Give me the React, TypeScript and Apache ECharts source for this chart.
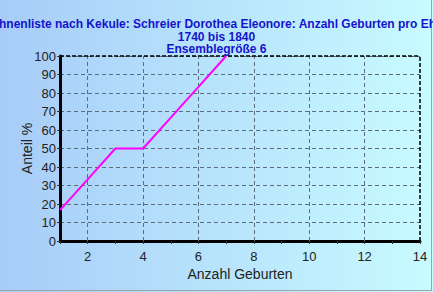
import React, { useEffect, useRef } from "react";
import * as echarts from "echarts";

const titleLines = [
  "Ahnenliste nach Kekule: Schreier Dorothea Eleonore: Anzahl Geburten pro Ehe",
  "1740 bis 1840",
  "Ensemblegröße 6",
];
const xName = "Anzahl Geburten";
const yName = "Anteil %";
const births = [1, 2, 3, 4, 5, 6, 7];
const shares = [16.67, 33.33, 50, 50, 66.67, 83.33, 100];
const xGridValues = [2, 4, 6, 8, 10, 12];
const xMin = 1;
const xMax = 14;
const yMin = 0;
const yMax = 100;
const yStep = 10;

export default function App() {
  const ref = useRef<HTMLDivElement>(null);
  useEffect(() => {
    if (!ref.current) return;
    const chart = echarts.init(ref.current, null, { renderer: "svg" });
    const font = "Arial, 'Liberation Sans', sans-serif";
    chart.setOption({
      animation: false,
      backgroundColor: {
        type: "linear",
        x: 0,
        y: 0,
        x2: 1,
        y2: 0,
        colorStops: [
          { offset: 0, color: "#a7ccf8" },
          { offset: 1, color: "#c8fbff" },
        ],
      },
      title: {
        text: titleLines.join("\n"),
        left: "center",
        top: 13,
        textStyle: {
          fontFamily: font,
          fontSize: 12,
          fontWeight: "bold",
          color: "#1414cc",
          lineHeight: 12.5,
        },
      },
      grid: { left: 60, right: 13, top: 56, bottom: 51 },
      xAxis: {
        type: "value",
        min: xMin,
        max: xMax,
        interval: 1,
        name: xName,
        nameLocation: "middle",
        nameGap: 26,
        nameMoveOverlap: false,
        nameTextStyle: { fontFamily: font, fontSize: 14, color: "#222" },
        axisLine: { show: true, lineStyle: { color: "#000", width: 3 } },
        axisTick: { show: true, length: 3, lineStyle: { color: "#333" } },
        axisLabel: {
          fontFamily: font,
          fontSize: 13,
          color: "#222",
          margin: 9,
          formatter: (v: number) => (v % 2 === 0 ? String(v) : ""),
        },
        splitLine: { show: false },
      },
      yAxis: {
        type: "value",
        min: yMin,
        max: yMax,
        interval: yStep,
        name: yName,
        nameLocation: "middle",
        nameGap: 26,
        nameMoveOverlap: false,
        nameTextStyle: { fontFamily: font, fontSize: 14, color: "#222" },
        axisLine: { show: true, lineStyle: { color: "#000", width: 3 } },
        axisTick: { show: true, length: 3, lineStyle: { color: "#333" } },
        axisLabel: { fontFamily: font, fontSize: 13, color: "#222", margin: 4 },
        splitLine: { show: true, lineStyle: { color: "#5a6e7e", type: [4, 3], width: 1 } },
      },
      series: [
        {
          type: "line",
          data: births.map((b, i) => [b, shares[i]]),
          showSymbol: false,
          symbol: "none",
          lineStyle: { color: "#ff00ff", width: 2 },
          z: 5,
          markLine: {
            silent: true,
            symbol: "none",
            label: { show: false },
            animation: false,
            data: [
              ...xGridValues.map((v) => ({
                xAxis: v,
                lineStyle: { color: "#5a6e7e", type: [4, 3], width: 1 },
              })),
              { xAxis: xMax, lineStyle: { color: "#000", type: [4, 2], width: 1.5 } },
              { yAxis: yMax, lineStyle: { color: "#000", type: [4, 2], width: 1.5 } },
            ],
          },
        },
      ],
      graphic: [
        { type: "line", shape: { x1: 431.5, y1: 0, x2: 431.5, y2: 291 }, style: { stroke: "#9aa4ac", lineWidth: 1 } },
        { type: "line", shape: { x1: 0, y1: 290.5, x2: 432, y2: 290.5 }, style: { stroke: "#9aa4ac", lineWidth: 1 } },
      ],
    });
    return () => chart.dispose();
  }, []);
  return (
    <div
      ref={ref}
      style={{ position: "fixed", left: 0, top: 0, width: 433, height: 292 }}
    />
  );
}
